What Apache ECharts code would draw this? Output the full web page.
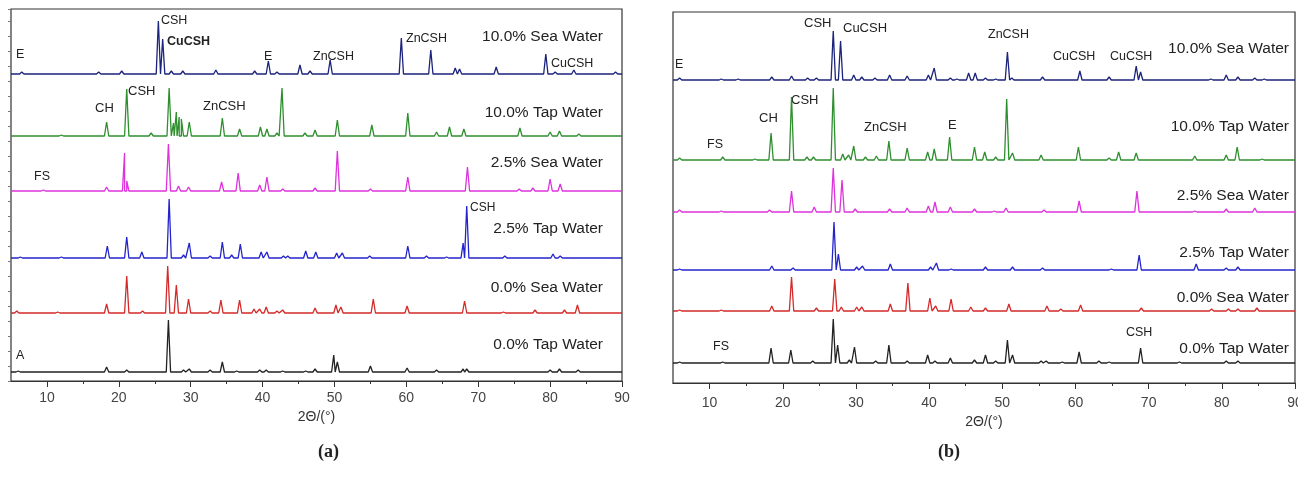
<!DOCTYPE html>
<html lang="en">
<head>
    <meta charset="UTF-8">
    <title>XRD patterns</title>
    <style>
        html, body { margin: 0; padding: 0; background: #fff; }
        #chart { width: 1298px; height: 491px; }
    </style>
</head>
<body>
    <div id="chart"></div>
    <script src="https://cdn.jsdelivr.net/npm/echarts@6/dist/echarts.min.js"></script>
    <script>
        // 2θ range and tick positions
        const thetaMin = 5
        const thetaMax = 90
        const tickValues = [10, 20, 30, 40, 50, 60, 70, 80, 90]
        const minorTickValues = [15, 25, 35, 45, 55, 65, 75, 85]

        const seriesNames = ['10.0% Sea Water', '10.0% Tap Water', '2.5% Sea Water', '2.5% Tap Water', '0.0% Sea Water', '0.0% Tap Water']
        const colors = ['#1b237a', '#2f8f2f', '#dd33dd', '#2424cc', '#d42a2a', '#222222']

        // vertical offset of every pattern (stacked plot)
        const offsetsA = [307, 245, 190, 123, 68, 9]
        const offsetsB = [303, 223, 171, 113, 72, 20]

        // peaks: [2θ, intensity]
        // panel (a)
        const aSea10 = [[6.5, 2], [17.2, 2], [20.4, 3], [25.5, 53], [26.1, 35], [27.3, 3], [28.9, 3], [33.5, 4], [38.9, 3], [40.8, 13], [42.0, 2], [45.2, 9], [46.6, 3], [49.4, 14], [59.3, 36], [63.4, 24], [66.8, 6], [67.4, 5], [72.5, 7], [79.4, 20], [80.7, 2], [83.3, 4], [89.1, 2]]
        const aTap10 = [[12.0, 1], [18.3, 14], [21.1, 47], [24.5, 3], [27.0, 48], [27.6, 13], [28.0, 24], [28.4, 19], [28.7, 17], [29.8, 14], [34.4, 18], [36.8, 7], [39.7, 9], [40.6, 7], [42.0, 3], [42.7, 48], [45.9, 3], [47.3, 6], [50.4, 16], [55.2, 11], [60.2, 23], [64.2, 4], [66.0, 9], [68.0, 7], [75.8, 8], [80.0, 4], [81.3, 5], [84.0, 2]]
        const aSea25 = [[9.5, 1], [18.3, 4], [20.8, 38], [21.1, 10], [26.9, 47], [28.3, 5], [29.7, 4], [34.3, 9], [36.6, 18], [39.6, 6], [40.6, 14], [42.8, 2], [47.3, 3], [50.4, 40], [55.0, 2], [60.2, 14], [68.5, 24], [75.7, 2], [77.6, 3], [80.0, 12], [81.4, 7]]
        const aTap25 = [[6.3, 1], [12.0, 1], [18.4, 12], [21.1, 21], [23.2, 6], [27.0, 59], [29.0, 3], [29.8, 15], [32.7, 2], [34.4, 16], [35.7, 3], [36.9, 14], [39.8, 6], [40.6, 6], [42.9, 2], [43.5, 2], [46.0, 7], [47.4, 6], [50.3, 5], [51.1, 5], [54.9, 2], [60.2, 12], [62.8, 2], [65.6, 1], [67.9, 15], [68.4, 52], [73.7, 2], [80.4, 4], [81.4, 2]]
        const aSea0 = [[5.8, 2], [11.5, 1], [18.3, 9], [21.1, 37], [23.3, 2], [26.8, 47], [28.0, 28], [29.7, 14], [32.7, 2], [34.2, 13], [36.8, 13], [38.8, 4], [39.6, 4], [40.5, 6], [42.0, 2], [42.8, 3], [47.3, 5], [50.2, 8], [50.9, 6], [55.4, 14], [60.1, 7], [68.1, 12], [73.5, 1], [77.9, 3], [82.0, 3], [83.8, 8]]
        const aTap0 = [[6.0, 1], [18.3, 5], [21.1, 2], [26.9, 52], [29.0, 2], [29.8, 3], [32.7, 2], [34.4, 10], [36.4, 1], [39.6, 2], [40.5, 2], [42.8, 1], [46.0, 1], [47.3, 3], [49.9, 17], [50.4, 10], [55.0, 6], [60.1, 4], [64.2, 2], [67.9, 3], [68.4, 3], [80.0, 2], [81.3, 3], [83.9, 2]]
        // panel (b)
        const bSea10 = [[5.9, 2], [11.6, 1], [13.9, 1], [18.5, 3], [21.2, 4], [23.4, 2], [24.6, 2], [26.9, 49], [27.9, 39], [29.7, 5], [30.8, 3], [32.6, 2], [34.6, 5], [37.0, 4], [39.9, 5], [40.7, 12], [42.9, 2], [43.8, 1], [45.4, 7], [46.3, 7], [47.7, 2], [49.1, 1], [50.7, 28], [51.3, 2], [55.5, 3], [60.6, 9], [64.6, 3], [68.3, 14], [68.9, 8], [78.5, 1], [80.6, 5], [82.2, 3], [84.5, 2], [85.8, 1]]
        const bTap10 = [[5.9, 2], [11.8, 3], [16.2, 1], [18.4, 27], [21.2, 63], [23.3, 3], [24.2, 3], [26.9, 72], [28.2, 6], [29.0, 5], [29.7, 14], [31.3, 3], [32.8, 4], [34.5, 19], [37.0, 12], [39.8, 8], [40.7, 11], [42.8, 23], [46.2, 13], [47.6, 8], [49.1, 3], [50.6, 61], [51.4, 7], [55.3, 5], [60.4, 13], [64.6, 2], [65.9, 8], [68.3, 7], [76.3, 4], [80.6, 5], [82.1, 13], [85.5, 1]]
        const bSea25 = [[5.9, 2], [11.6, 1], [18.2, 2], [21.2, 21], [24.3, 5], [26.9, 44], [28.1, 32], [29.9, 3], [34.6, 3], [37.0, 4], [39.9, 6], [40.8, 10], [42.9, 5], [46.2, 3], [48.9, 1], [50.5, 4], [55.7, 2], [60.5, 11], [68.4, 21], [76.3, 1], [80.6, 3], [84.5, 4]]
        const bTap25 = [[5.9, 1], [18.5, 4], [21.4, 2], [27.0, 48], [27.6, 16], [30.1, 3], [30.9, 4], [34.7, 6], [40.2, 3], [41.0, 7], [43.0, 1], [47.7, 3], [51.4, 3], [55.5, 2], [64.9, 1], [68.7, 15], [76.5, 6], [80.6, 2], [82.2, 3]]
        const bSea0 = [[5.9, 1], [11.6, 1], [18.5, 5], [21.2, 34], [24.6, 3], [27.1, 32], [28.0, 4], [30.1, 4], [30.8, 4], [34.7, 7], [37.1, 28], [40.1, 13], [40.9, 5], [43.0, 12], [45.7, 4], [47.7, 3], [50.9, 7], [56.1, 5], [58.0, 2], [60.7, 6], [69.0, 3], [78.6, 2], [80.9, 2], [82.2, 2], [84.8, 3]]
        const bTap0 = [[5.9, 1], [11.8, 1], [18.4, 15], [21.1, 13], [24.1, 2], [26.9, 44], [27.5, 18], [29.1, 3], [29.8, 16], [32.7, 2], [34.5, 18], [37.0, 2], [39.8, 8], [40.8, 2], [42.9, 5], [46.2, 3], [47.7, 8], [49.1, 2], [50.7, 23], [51.4, 8], [55.3, 2], [56.0, 2], [58.2, 1], [60.5, 11], [63.2, 2], [64.6, 1], [68.9, 15], [74.2, 1], [80.6, 2], [82.2, 2]]

        const panelA = [aSea10, aTap10, aSea25, aTap25, aSea0, aTap0]
        const panelB = [bSea10, bTap10, bSea25, bTap25, bSea0, bTap0]

        // peak annotations: [text, left, middle y, font size, bold]
        const labelsA = [
            ['E', 16, 55, 12.5], ['CSH', 161, 21, 12.5], ['CuCSH', 167, 42, 12.5, true], ['E', 264, 57, 12.5],
            ['ZnCSH', 313, 57, 12.5], ['ZnCSH', 406, 39, 12.5], ['CuCSH', 551, 64, 12.5],
            ['CH', 95, 108, 13], ['CSH', 128, 91, 13], ['ZnCSH', 203, 106, 13],
            ['FS', 34, 177, 12.5], ['CSH', 470, 208, 12], ['A', 16, 356, 12.5]
        ]
        const nameYA = [37, 113, 163, 229, 288, 345]
        const labelsB = [
            ['E', 675, 65, 12.5], ['CSH', 804, 23, 13], ['CuCSH', 843, 28, 13], ['ZnCSH', 988, 35, 12.5],
            ['CuCSH', 1053, 57, 12.5], ['CuCSH', 1110, 57, 12.5],
            ['CH', 759, 118, 13], ['CSH', 791, 100, 13], ['FS', 707, 145, 12.5], ['ZnCSH', 864, 127, 13],
            ['E', 948, 125, 13], ['FS', 713, 347, 12.5], ['CSH', 1126, 333, 12.5]
        ]
        const nameYB = [49, 127, 196, 253, 298, 349]

        const peakHalfWidth = 0.3

        function buildTrace(peaks, base) {
            let pts = [[thetaMin, base], [thetaMax, base]]
            peaks.forEach(function (p) {
                pts.push([p[0] - peakHalfWidth, base], [p[0], base + p[1]], [p[0] + peakHalfWidth, base])
            })
            return pts.sort(function (a, b) { return a[0] - b[0] })
        }

        function text(str, x, y, size, bold, family, align) {
            return {
                type: 'text',
                style: {
                    text: str, x: x, y: y,
                    font: (bold ? 'bold ' : '') + size + 'px ' + (family || '"Liberation Sans", Arial, sans-serif'),
                    fill: '#222',
                    textAlign: align || 'left', align: align || 'left',
                    textVerticalAlign: 'middle', verticalAlign: 'middle'
                }
            }
        }

        function xAxes(grid, gap, labelMargin) {
            return [{
                gridIndex: grid, type: 'value', min: thetaMin, max: thetaMax,
                name: '2Θ/(°)', nameLocation: 'middle', nameGap: gap,
                nameTextStyle: { fontSize: 14, color: '#333', fontFamily: 'Liberation Sans' },
                axisLine: { lineStyle: { color: '#333', width: 1.2 } },
                axisTick: { customValues: tickValues, length: 6, lineStyle: { color: '#333' } },
                axisLabel: { customValues: tickValues, margin: labelMargin, fontSize: 14, color: '#444', fontFamily: 'Liberation Sans', hideOverlap: false },
                splitLine: { show: false }
            }, {
                gridIndex: grid, type: 'value', min: thetaMin, max: thetaMax, position: 'bottom',
                axisLine: { show: false },
                axisTick: { customValues: minorTickValues, length: 3, lineStyle: { color: '#333' } },
                axisLabel: { show: false },
                splitLine: { show: false }
            }]
        }

        const myChart = echarts.init(document.getElementById('chart'))

        let series = []
        let graphic = []
        ;[[panelA, offsetsA, 0], [panelB, offsetsB, 1]].forEach(function (panel) {
            panel[0].forEach(function (peaks, i) {
                series.push({
                    name: seriesNames[i], type: 'line',
                    xAxisIndex: panel[2] * 2, yAxisIndex: panel[2],
                    data: buildTrace(peaks, panel[1][i]),
                    showSymbol: false, animation: false,
                    lineStyle: { color: colors[i], width: 1.3 }
                })
            })
        })
        labelsA.concat(labelsB).forEach(function (l) {
            graphic.push(text(l[0], l[1], l[2], l[3], l[4]))
        })
        seriesNames.forEach(function (n, i) {
            graphic.push(text(n, 603, nameYA[i], 15.5, false, null, 'right'))
            graphic.push(text(n, 1289, nameYB[i], 15.5, false, null, 'right'))
        })
        graphic.push(text('(a)', 318, 452, 18, true, '"Liberation Serif", serif'))
        graphic.push(text('(b)', 938, 452, 18, true, '"Liberation Serif", serif'))

        const option = {
            backgroundColor: '#fff',
            animation: false,
            grid: [
                { left: 11, top: 9, width: 611, height: 372, show: true, borderColor: '#333', borderWidth: 1.2, containLabel: false, outerBoundsMode: 'none' },
                { left: 673, top: 12, width: 622, height: 371, show: true, borderColor: '#333', borderWidth: 1.2, containLabel: false, outerBoundsMode: 'none' }
            ],
            xAxis: xAxes(0, 26, 10).concat(xAxes(1, 30, 13)),
            yAxis: [
                {
                    gridIndex: 0, type: 'value', min: 0, max: 372, interval: 15,
                    axisLine: { show: false },
                    axisTick: { show: true, length: 3, lineStyle: { color: '#777' } },
                    axisLabel: { show: false }, splitLine: { show: false }
                },
                {
                    gridIndex: 1, type: 'value', min: 0, max: 371,
                    axisLine: { show: false }, axisTick: { show: false },
                    axisLabel: { show: false }, splitLine: { show: false }
                }
            ],
            series: series,
            graphic: graphic
        }

        myChart.setOption(option)
    </script>
</body>
</html>
